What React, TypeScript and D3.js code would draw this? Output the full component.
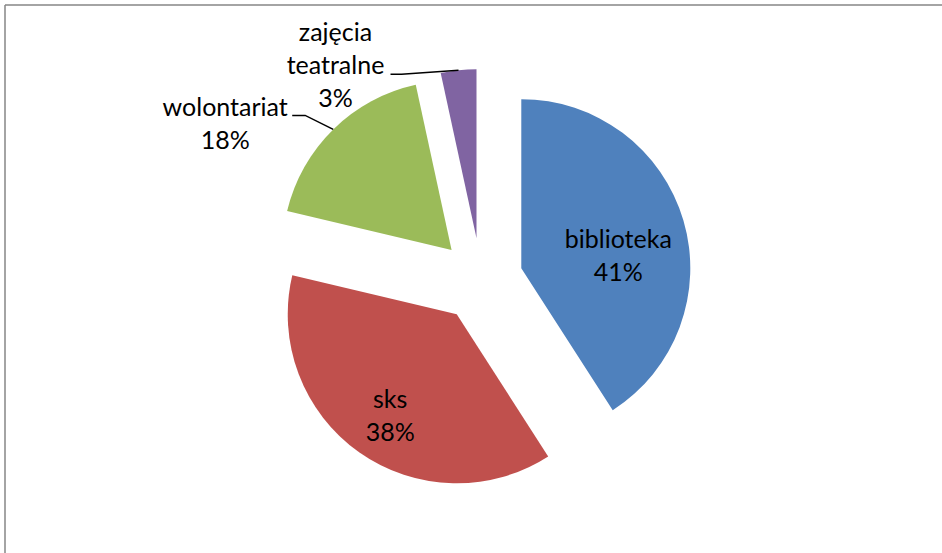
import React from "react";
import * as d3 from "d3";

const categories = ["biblioteka", "sks", "wolontariat", "zajęcia teatralne"];
const values = [40.9, 37.8, 17.9, 3.4];
const percentLabels = ["41%", "38%", "18%", "3%"];
const labelLines = [["biblioteka"], ["sks"], ["wolontariat"], ["zajęcia", "teatralne"]];

const colors = ["#4F81BD", "#C0504D", "#9BBB59", "#8064A2"];

const W = 942;
const H = 553;
const cx = 481;
const cy = 280;
const R = 169;
const explode = 42;
const fontSize = 25;
const lineH = 33;

// inside labels: polar offset from slice apex (deg clockwise from top, distance)
// outside labels: offsets relative to outer arc mid-point
type LabelCfg =
  | { mode: "inside"; ang: number; dist: number }
  | { mode: "outside"; tx: number; ty: number; elbow: [number, number]; end: [number, number] };

const labelCfg: LabelCfg[] = [
  { mode: "inside", ang: 81.8, dist: 98 },
  { mode: "inside", ang: 213.7, dist: 120 },
  { mode: "outside", tx: -108, ty: -13, elbow: [-28, -14], end: [-41, -14] },
  { mode: "outside", tx: -123, ty: -29, elbow: [-57, 4], end: [-68, 4] },
];

const polar = (deg: number, r: number): [number, number] => {
  const a = (deg * Math.PI) / 180;
  return [Math.sin(a) * r, -Math.cos(a) * r];
};

export default function App() {
  const pie = d3.pie<number>().sort(null).startAngle(0).endAngle(2 * Math.PI).value((d) => d);
  const arcs = pie(values);
  const arcGen = d3.arc<d3.PieArcDatum<number>>().innerRadius(0).outerRadius(R);

  return (
    <svg
      width={W}
      height={H}
      style={{ position: "absolute", left: 0, top: 0, display: "block", background: "#fff" }}
      fontFamily="Lato, 'Open Sans', sans-serif"
    >
      <line x1={5} y1={5} x2={W} y2={5} stroke="#868686" strokeWidth={1.5} />
      <line x1={5} y1={5} x2={5} y2={H} stroke="#868686" strokeWidth={1.5} />
      {arcs.map((a, i) => {
        const mid = ((a.startAngle + a.endAngle) / 2) * (180 / Math.PI);
        const [ox, oy] = polar(mid, explode);
        const ax = cx + ox;
        const ay = cy + oy;
        const cfg = labelCfg[i];
        const lines = [...labelLines[i], percentLabels[i]];
        let labelEl: React.ReactNode = null;
        if (cfg.mode === "inside") {
          const [lx, ly] = polar(cfg.ang, cfg.dist);
          const px = ax + lx;
          const py = ay + ly;
          labelEl = (
            <text textAnchor="middle" fontSize={fontSize} fill="#000">
              {lines.map((t, k) => (
                <tspan key={k} x={px} y={py - 6 + k * lineH}>
                  {t}
                </tspan>
              ))}
            </text>
          );
        } else {
          const [mx, my] = polar(mid, R);
          const px = ax + mx;
          const py = ay + my;
          const path = d3.line()([
            [px + cfg.end[0], py + cfg.end[1]],
            [px + cfg.elbow[0], py + cfg.elbow[1]],
            [px, py],
          ]);
          labelEl = (
            <g>
              <path d={path || ""} fill="none" stroke="#000" strokeWidth={1.5} />
              <text textAnchor="middle" fontSize={fontSize} fill="#000">
                {lines.map((t, k) => (
                  <tspan key={k} x={px + cfg.tx} y={py + cfg.ty + k * lineH}>
                    {t}
                  </tspan>
                ))}
              </text>
            </g>
          );
        }
        return (
          <g key={categories[i]}>
            <path d={arcGen(a) || ""} transform={`translate(${ax},${ay})`} fill={colors[i]} />
            {labelEl}
          </g>
        );
      })}
    </svg>
  );
}
